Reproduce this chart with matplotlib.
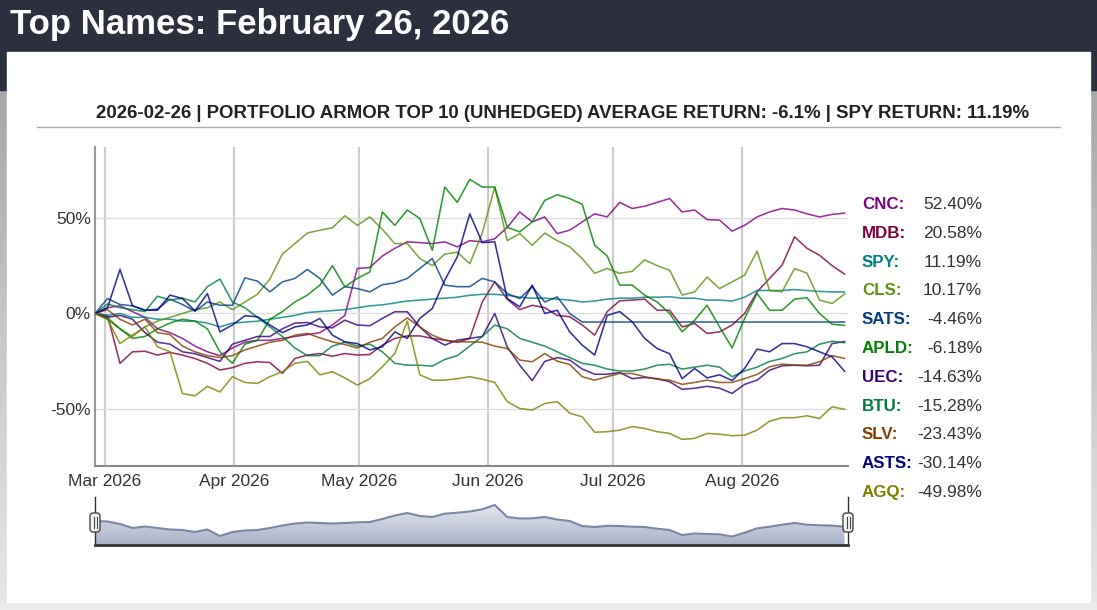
import numpy as np
import pandas as pd
import matplotlib
matplotlib.use("Agg")
import matplotlib.pyplot as plt
from matplotlib.patches import Rectangle, FancyBboxPatch, Polygon
from matplotlib.colors import LinearSegmentedColormap

plt.rcParams['font.family'] = ['Liberation Sans', 'DejaVu Sans']

# one reading every 3 days starting on the 26th of February
dates = pd.date_range('2026-02-26 14:00', periods=61, freq='3D').values

tickers = ['CNC', 'MDB', 'SPY', 'CLS', 'SATS', 'APLD', 'UEC', 'BTU', 'SLV', 'ASTS', 'AGQ']
colors = ['#800080', '#800040', '#008080', '#5f9015', '#003f7f', '#008000',
          '#330077', '#007a40', '#804000', '#000080', '#808000']
final_returns = [52.40, 20.58, 11.19, 10.17, -4.46, -6.18, -14.63, -15.28, -23.43, -30.14, -49.98]

cnc = [0, 3, 4, 1, -2, -8, -10, -13, -17, -20,
       -22, -18, -15, -14, -14, -13, -12, -11, -10, -6,
       -1, 23.5, 24, 30, 34, 37.4, 37, 36.5, 37.4, 34.8,
       38, 37.4, 39, 45, 53, 47.8, 50.4, 41.7, 43.5, 47.8,
       52, 50.4, 58, 54.8, 56, 58, 60, 53, 54, 49,
       48.7, 43, 46, 50.4, 53, 54.8, 54, 52, 50.4, 51.7,
       52.4]
mdb = [0, -1, -26, -20, -19.7, -21.7, -20.3, -21.7, -23.5, -26,
       -29.5, -28.3, -26, -25.2, -25.6, -31.3, -23.5, -21.7, -20.9, -22.3,
       -20.9, -21.7, -21.4, -16.5, -13, -11.7, -11.7, -13, -13.9, -15,
       -13, 6, 16.5, 7.5, 2, 4.3, 3, -1, -1.7, -6,
       -11.3, 1, 6.6, 7, 7.5, 1.7, 1.7, -7, -5.2, -10.4,
       -9.6, -6, 0, 11.3, 18.3, 25.2, 40, 34, 30.4, 25,
       20.58]
spy = [0, -1, 0, -2, -2, -3, -3, -4, -4, -5,
       -7, -5, -4.5, -4, -3, -2, -1, 0.5, 1, 1.5,
       2, 3, 4, 4.5, 5.5, 6.5, 7, 7.5, 8, 8.5,
       9.5, 10, 10, 9.5, 8.5, 8, 8, 7.5, 7, 6,
       6.5, 7.5, 8, 8, 8.5, 8.5, 8.7, 8, 8, 7,
       7, 6.5, 8.5, 12, 12, 12, 12.5, 12, 11.5, 11.3,
       11.19]
cls = [0, -2, -8, -12, -7, -4, -2, 0, 2, 3,
       6, 2, 6, 10, 18, 31, 36.5, 42, 43.5, 44.7,
       51, 46, 50.4, 44, 36.5, 36.5, 28.7, 25, 31, 32,
       26, 42, 66, 38, 41.7, 35.6, 42, 38, 34.8, 28.7,
       21, 23.5, 21, 22, 28, 25, 22.6, 9.6, 11.3, 19,
       13, 16.5, 20, 32.6, 12, 11.3, 23.5, 21, 7, 5.2,
       10.17]
sats = [0, 7.8, 4.7, 4, 1.7, 2.3, 7.5, 4.7, 1.2, 6,
        4.3, 4.3, 18.6, 16.9, 11.3, 16.5, 18.3, 23, 18.3, 9.6,
        14, 13, 11.3, 15, 16, 18.3, 23.5, 28.7, 14.8, 14,
        14, 18.3, 16.5, 10.4, 7.8, 14, 6, 8.7, 0, -4.46,
        -4.46, -4.46, -4.46, -4.46, -4.46, -4.46, -4.46, -4.46, -4.46, -4.46,
        -4.46, -4.46, -4.46, -4.46, -4.46, -4.46, -4.46, -4.46, -4.46, -4.46,
        -4.46]
apld = [0, -3, -8, -13, -12, -8, -5, -3, -4, -8,
        -20, -26, -16, -14, -3, 1, 6, 9.6, 14.8, 25,
        13.9, 18.3, 21.7, 53, 46, 54, 49.6, 33, 66, 58,
        70, 66, 66, 45, 42.6, 47.8, 59, 62, 60, 57,
        35.6, 30, 14.8, 14.8, 9.6, 6, 0, -9.6, -3.5, 4.3,
        -7, -18, -2.6, 10.4, 1.7, 1.7, 7.5, 8.2, 0, -5.6,
        -6.18]
uec = [0, -2, -1, -3, -10, -15, -16, -20, -21, -23,
       -25, -16, -14, -12, -12, -8, -5, -4.7, -7, -7.5,
       -3.5, -6, -6.4, -2.6, 0.9, 0.9, -7, -13, -16.5, -13.9,
       -13, -12, 0, -17.4, -27, -35, -25, -23, -24.3, -29,
       -31.7, -31.7, -30.8, -34, -33.4, -34, -35.6, -39.6, -39, -38,
       -39, -41.7, -37, -34.8, -29.6, -27.3, -27, -27.3, -27, -15.7,
       -14.63]
btu = [0, 5, 3, 2, 1, 9, 7, 8, 6, 14,
       18, 6, 3, -2, -7, -12, -18, -22, -22, -17,
       -15, -17, -16, -20, -26, -27, -27, -27.5, -24, -22,
       -17, -12, -6, -8, -13, -15, -17, -20, -23, -26,
       -27, -29, -30, -30, -29, -27, -26.5, -29, -28, -27,
       -28, -33, -30, -28, -25, -23.5, -21, -20, -16, -14.5,
       -15.28]
slv = [0, 2, -3, -6, -3, -10, -11, -17, -20, -22,
       -23, -22, -19, -17, -15, -14, -11.3, -10.4, -12.7, -14.8,
       -16.2, -18, -15, -13, -7, -2.3, -7, -11.3, -13.9, -14.8,
       -14.8, -15, -17, -18.3, -24.3, -25.2, -20.9, -24.9, -26.6, -33,
       -34.8, -33, -31.3, -31.3, -33, -34.3, -34.8, -37, -36, -34.8,
       -36, -36, -34, -31.8, -27.8, -26.4, -27, -27, -25.2, -22,
       -23.43]
asts = [0, 3, 23, 4, 1.7, 1.7, 9.6, 7.8, 1.4, 10.4,
        -9.6, -6, -1.2, -1.7, -6, -10, -7, -6, -2.6, -11.3,
        -14.8, -15.7, -19, -17.4, -9.6, -13, -2.6, 2.6, 17.4, 29.6,
        52, 37, 37.4, 7.8, 3.5, 14.8, 0, 1.7, -9.6, -16.5,
        -21.7, -1, 1, -4.3, -13, -18.3, -21, -34, -28.7, -33.6,
        -32, -35, -28.7, -18.6, -20, -15.7, -15.7, -17.4, -20, -22.6,
        -30.14]
agq = [0, -3, -15.7, -11.3, -7, -17.4, -20, -41.7, -43, -38,
       -41, -33, -36, -36.5, -33, -30.4, -26, -25, -32, -30.4,
       -33.6, -37.4, -34, -27.8, -20.9, -4, -32, -34.8, -34.8, -34,
       -33, -34.3, -36, -46, -49.6, -50.4, -47, -46, -52, -53.9,
       -62, -61.7, -60.9, -59, -60, -61.7, -62.6, -65.7, -65.2, -62.6,
       -63, -63.8, -63.5, -60.9, -56.2, -54.4, -54.4, -53.4, -54.8, -48.7,
       -49.98]
series = [cnc, mdb, spy, cls, sats, apld, uec, btu, slv, asts, agq]

# the small overview strip under the chart
navigator = [0, -0.5, -3, -7, -5.5, -7, -8.5, -9, -11, -8.5,
             -15, -11, -9.5, -9, -7, -4.5, -2.5, -1.5, -2, -2.5,
             -2, -1.3, -1, 2, 5.5, 8, 5, 4, 7.3, 8.3,
             9.5, 11.7, 16, 4, 2.5, 2.7, 4, 1.5, 0, -5,
             -6, -4.8, -5, -5.7, -6, -7.7, -9, -14, -12.5, -13,
             -13.3, -15.5, -11.7, -7.3, -5.7, -3.7, -2, -3.7, -4.3, -4.6,
             -5.7]

month_ticks = pd.date_range('2026-03-01', '2026-08-01', freq='MS').values
month_labels = ['Mar 2026', 'Apr 2026', 'May 2026', 'Jun 2026', 'Jul 2026', 'Aug 2026']
y_ticks = [-50, 0, 50]
y_labels = ['-50%', '0%', '50%']

title = 'Top Names: February 26, 2026'
subtitle = ('2026-02-26 | PORTFOLIO ARMOR TOP 10 (UNHEDGED) AVERAGE RETURN: -6.1% | '
            'SPY RETURN: 11.19%')

W, H = 1097, 610
fig = plt.figure(figsize=(W / 100, H / 100), dpi=100)

# page background, drawn in pixel coordinates
bg = fig.add_axes([0, 0, 1, 1])
bg.set_xlim(0, W)
bg.set_ylim(H, 0)
bg.axis('off')
bg.add_patch(Rectangle((0, 0), W, 90, color='#2c303e'))
side = LinearSegmentedColormap.from_list('side', ['#a9a9a9', '#e6e6e6'])
grad = np.linspace(0, 1, 100).reshape(-1, 1)
bg.imshow(grad, extent=[0, 7, 602, 90], cmap=side, aspect='auto')
bg.imshow(grad, extent=[1090, W, 602, 90], cmap=side, aspect='auto')
bg.add_patch(Rectangle((0, 602), W, 8, color='#ebebeb'))
bg.add_patch(Rectangle((7, 52), 1083, 550, color='white'))
bg.set_xlim(0, W)
bg.set_ylim(H, 0)

bg.text(10, 34, title, color='white', fontsize=25, fontweight='bold', va='baseline')
bg.text(563, 118, subtitle, color='#222222', fontsize=13.4, fontweight='bold',
        ha='center', va='baseline')
bg.plot([37, 1060], [127, 127], color='#aaaaaa', lw=1)

# legend with final returns
for k in range(len(tickers)):
    yb = 209 + 28.8 * k
    bg.text(862, yb, tickers[k] + ':', color=colors[k], fontsize=12.2,
            fontweight='bold', va='baseline')
    bg.text(982, yb, f'{final_returns[k]:.2f}%', color='#333333', fontsize=12.5,
            ha='right', va='baseline')

# main chart
ax = fig.add_axes([95 / W, 1 - 466 / H, 753 / W, 319 / H])
ax.patch.set_alpha(0)
for vals, col in zip(series, colors):
    ax.plot(dates, vals, color=col, lw=1.15, alpha=0.8, zorder=3)

x0 = np.datetime64('2026-02-26T14:00')
x1 = np.datetime64('2026-08-26T10:00')
ax.set_xlim(x0, x1)
ax.set_ylim(-79.6, 86.9)
ax.set_yticks(y_ticks)
ax.set_yticklabels(y_labels)
ax.set_xticks(month_ticks)
ax.set_xticklabels(month_labels)
ax.tick_params(length=0, labelsize=12.5, labelcolor='#333333')
ax.tick_params(axis='y', pad=3)
ax.tick_params(axis='x', pad=6)
ax.grid(axis='x', color='#cccccc', lw=1.5)
ax.grid(axis='y', color='#dddddd', lw=1)
ax.set_axisbelow(True)
for s in ['top', 'right']:
    ax.spines[s].set_visible(False)
ax.spines['left'].set_color('#999999')
ax.spines['left'].set_linewidth(1.5)
ax.spines['bottom'].set_color('#888888')
ax.spines['bottom'].set_linewidth(1.5)

# navigator strip
nav = fig.add_axes([95 / W, 1 - 545 / H, 753 / W, 45 / H])
nav.axis('off')
xn = matplotlib.dates.date2num(dates)
lo, hi = -24, 21
verts = list(zip(xn, navigator)) + [(xn[-1], lo), (xn[0], lo)]
clip = Polygon(verts, closed=True, facecolor='none', edgecolor='none')
nav.add_patch(clip)
navmap = LinearSegmentedColormap.from_list('nav', ['#a8b1c7', '#eceef4'])
im = nav.imshow(np.linspace(0, 1, 100).reshape(-1, 1), extent=[xn[0], xn[-1], lo, hi],
                cmap=navmap, aspect='auto', origin='lower')
im.set_clip_path(clip)
nav.plot(xn, navigator, color='#7a88a6', lw=1.5)
nav.set_xlim(matplotlib.dates.date2num(x0), matplotlib.dates.date2num(x1))
nav.set_ylim(lo, hi)

# navigator frame and handles on top
ov = fig.add_axes([0, 0, 1, 1])
ov.set_xlim(0, W)
ov.set_ylim(H, 0)
ov.axis('off')
ov.patch.set_alpha(0)
ov.plot([95, 848], [545, 545], color='#333333', lw=2)
for hx in (95, 848):
    ov.plot([hx, hx], [497, 545], color='#333333', lw=1)
    ov.add_patch(FancyBboxPatch((hx - 5, 513), 10, 19,
                                boxstyle='round,pad=0,rounding_size=3',
                                fc='#f4f4f4', ec='#444444', lw=1, zorder=5))
    for dx in (-1.5, 1.5):
        ov.plot([hx + dx, hx + dx], [517, 528], color='#444444', lw=0.8, zorder=6)

fig.savefig('out.png', dpi=100)
